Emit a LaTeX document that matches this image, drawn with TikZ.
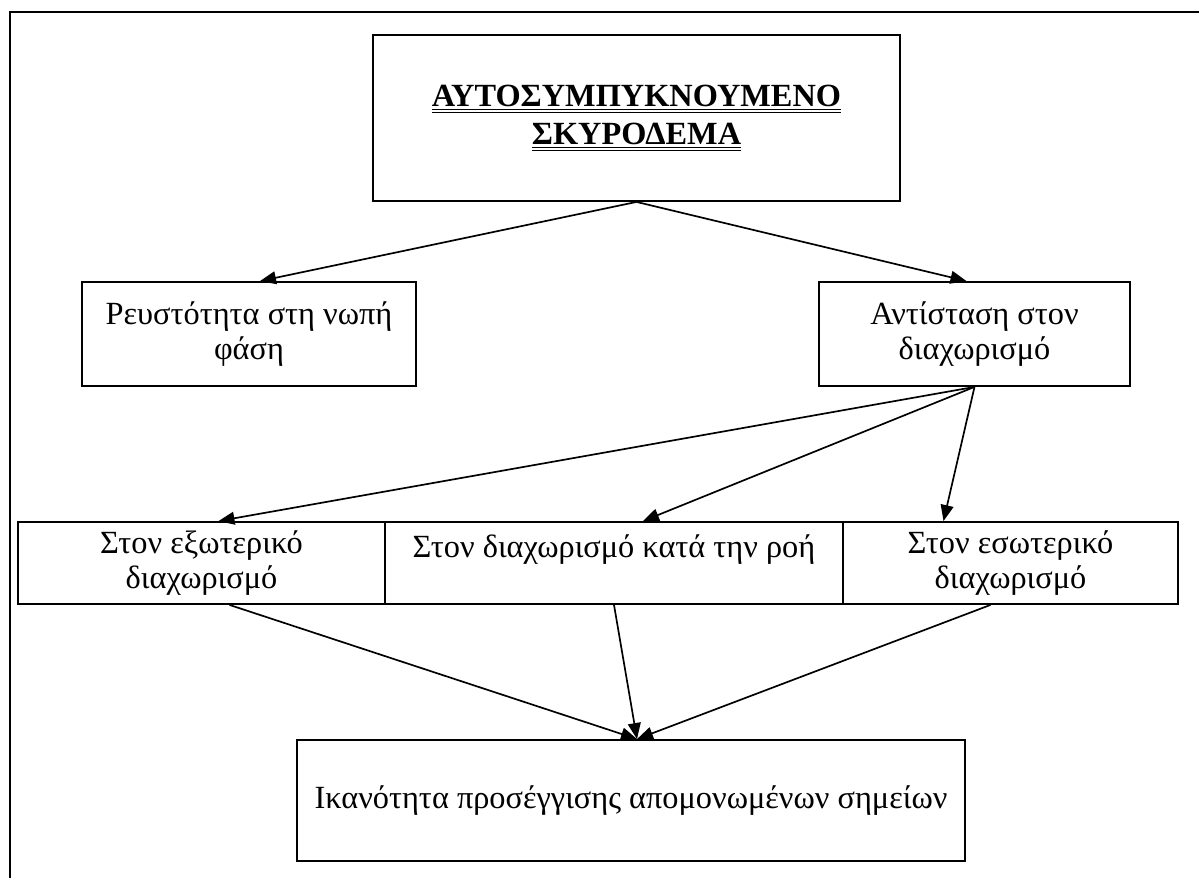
\documentclass[tikz,border=0pt]{standalone}
\usepackage{fontspec}
\setmainfont{Liberation Serif}
\usepackage{tikz}
\usetikzlibrary{positioning,arrows.meta,calc}
\newcommand{\dblul}[1]{$\underline{\underline{\hbox{#1}}}$}

\begin{document}
\begin{tikzpicture}[x=0.025cm,y=-0.025cm,
    font=\fontsize{23}{24.5}\selectfont,
    box/.style={draw,line width=1.3pt,align=center,inner sep=0pt},
    arr/.style={line width=1.2pt,-{Triangle[length=4mm,width=3.2mm]}}]
  \useasboundingbox (0,0) rectangle (1199,878);
  % page frame
  \draw[line width=1.4pt] (1199,12) -- (10,12) -- (10,878);

  \node[box,minimum width=13.175cm,minimum height=4.15cm,
        font=\fontsize{23}{27}\selectfont\bfseries] (head) at (636.5,118)
    {\dblul{ΑΥΤΟΣΥΜΠΥΚΝΟΥΜΕΝΟ}\\ \dblul{ΣΚΥΡΟΔΕΜΑ}};
  \node[box,minimum width=8.35cm,minimum height=2.6cm] (fluid) at (249,334)
    {Ρευστότητα στη νωπή\\ φάση};
  \node[box,minimum width=7.775cm,minimum height=2.6cm] (resist) at (974.5,334)
    {Αντίσταση στον\\ διαχωρισμό};
  \node[box,minimum width=9.175cm,minimum height=2.05cm] (outer) at (201.5,563)
    {Στον εξωτερικό\\ διαχωρισμό};
  \node[box,minimum width=11.45cm,minimum height=2.05cm] (flow) at (614,563)
    {Στον διαχωρισμό κατά την ροή\\ \mbox{}};
  \node[box,minimum width=8.375cm,minimum height=2.05cm] (inner) at (1010.5,563)
    {Στον εσωτερικό\\ διαχωρισμό};
  \node[box,minimum width=16.7cm,minimum height=3.025cm] (reach) at (631,800.5)
    {Ικανότητα προσέγγισης απομονωμένων σημείων};

  \coordinate (reachtop) at ($(reach.north)+(6,0)$);

  \draw[arr] (head.south) -- ($(fluid.north)+(11,0)$);
  \draw[arr] (head.south) -- ($(resist.north)+(-8,0)$);
  \draw[arr] (resist.south) -- ($(outer.north)+(17,0)$);
  \draw[arr] (resist.south) -- ($(flow.north)+(29,0)$);
  \draw[arr] (resist.south) -- ($(inner.north)+(-67,0)$);
  \draw[arr] ($(outer.south)+(28,0)$) -- (reachtop);
  \draw[arr] (flow.south) -- (reachtop);
  \draw[arr] ($(inner.south)+(-20,0)$) -- (reachtop);
\end{tikzpicture}
\end{document}
